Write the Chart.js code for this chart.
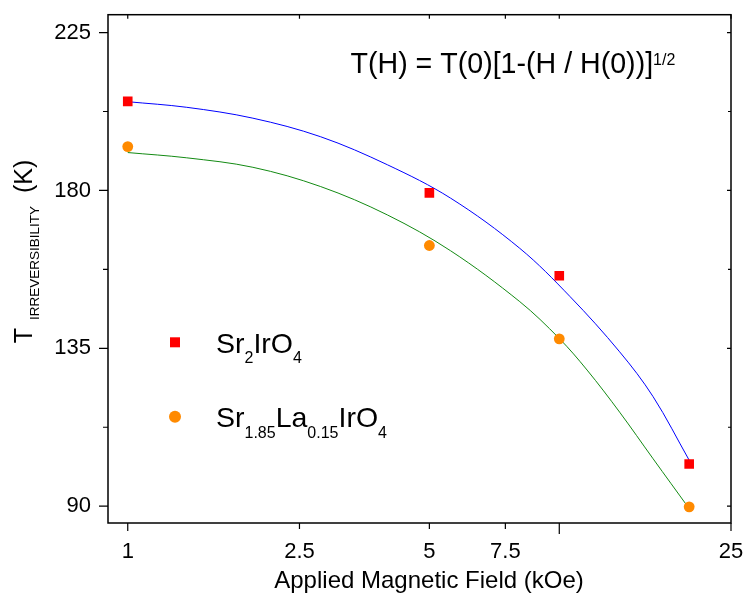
<!DOCTYPE html>
<html><head><meta charset="utf-8">
<script src="https://cdn.jsdelivr.net/npm/chart.js@4.4.1/dist/chart.umd.min.js"></script>
<style>html,body{margin:0;padding:0;background:#fff;overflow:hidden}</style>
</head><body>
<canvas id="c" width="745" height="595"></canvas>
<script>
// ---- data ----
const fieldH = [1, 5, 10, 20];
const tSr2IrO4 = [205.4, 179.3, 155.7, 102.0];
const tSrLaIrO4 = [192.5, 164.3, 137.7, 89.8];
const fitH1 = [1, 1.37, 1.95, 2.8, 4, 5.6, 8.1, 10.6, 13.8, 16.5, 20];
const fitSr2IrO4 = [205.3, 203.7, 200.6, 195.3, 187.3, 177.8, 163.5, 149.7, 134.0, 121.2, 103.1];
const fitH2 = [1, 1.37, 1.95, 2.8, 4, 5.6, 8.1, 10, 11.6, 13.8, 16.5, 20];
const fitSrLaIrO4 = [190.8, 189.3, 186.6, 181.1, 173.0, 162.8, 148.3, 137.8, 128.8, 116.8, 103.5, 89.3];
const xTicks = [1, 2.5, 5, 7.5, 10, 25];
const xTickLabels = ['1', '2.5', '5', '7.5', '', '25'];
const yMajorTicks = [90, 135, 180, 225];
const yMinorTicks = [112.5, 157.5, 202.5];

const FONT = "'Liberation Sans', Arial, Helvetica, sans-serif";
const pts = (xs, ys) => xs.map((v, i) => ({x: v, y: ys[i]}));

function drawRich(ctx, x, y, parts, big, small, subDy) {
  let cx = x;
  parts.forEach(([t, kind]) => {
    const sz = kind ? small : big;
    ctx.font = sz + 'px ' + FONT;
    const dy = kind === 'sub' ? subDy : (kind === 'sup' ? -subDy : 0);
    ctx.fillText(t, cx, y + dy);
    cx += ctx.measureText(t).width;
  });
}

const decor = {
  id: 'decor',
  afterDraw(chart) {
    const {ctx, chartArea: a, scales: {x, y}} = chart;
    ctx.save();
    ctx.strokeStyle = '#000';
    ctx.lineWidth = 1.5;
    ctx.strokeRect(a.left, a.top, a.right - a.left, a.bottom - a.top);
    ctx.lineWidth = 1.2;
    ctx.beginPath();
    yMajorTicks.forEach(v => { const p = y.getPixelForValue(v);
      ctx.moveTo(a.left - 9, p); ctx.lineTo(a.left, p);
      ctx.moveTo(a.right, p); ctx.lineTo(a.right - 4, p); });
    yMinorTicks.forEach(v => { const p = y.getPixelForValue(v);
      ctx.moveTo(a.left - 5, p); ctx.lineTo(a.left, p);
      ctx.moveTo(a.right, p); ctx.lineTo(a.right - 3, p); });
    xTicks.forEach((v, i) => { const p = x.getPixelForValue(v);
      const len = (v === 10) ? 11 : ((v === 1 || v === 25) ? 8 : 6);
      ctx.moveTo(p, a.bottom); ctx.lineTo(p, a.bottom + len);
      ctx.moveTo(p, a.top); ctx.lineTo(p, a.top + 4); });
    ctx.stroke();

    ctx.fillStyle = '#000';
    ctx.textBaseline = 'alphabetic';
    ctx.textAlign = 'left';
    // formula
    drawRich(ctx, 350.5, 73, [['T(H) = T(0)[1-(H / H(0))]', null], ['1/2', 'sup']], 28.6, 16, 8);
    // legend
    ctx.fillStyle = '#ff0000';
    ctx.fillRect(175 - 5, 342.3 - 5, 10, 10);
    ctx.fillStyle = '#ff8a00';
    ctx.beginPath(); ctx.arc(175, 416.7, 6, 0, Math.PI * 2); ctx.fill();
    ctx.fillStyle = '#000';
    drawRich(ctx, 216, 352.7, [['Sr', null], ['2', 'sub'], ['IrO', null], ['4', 'sub']], 28.5, 16, 10.5);
    drawRich(ctx, 216, 427.3, [['Sr', null], ['1.85', 'sub'], ['La', null], ['0.15', 'sub'], ['IrO', null], ['4', 'sub']], 28.5, 16, 10.5);
    // x title
    ctx.font = '24px ' + FONT;
    ctx.textAlign = 'center';
    ctx.fillText('Applied Magnetic Field (kOe)', 429, 588);
    // y title
    ctx.save();
    ctx.translate(31.7, 343.3);
    ctx.rotate(-Math.PI / 2);
    ctx.textAlign = 'left';
    ctx.font = '25px ' + FONT;
    ctx.fillText('T', 0, 0);
    ctx.font = '13.5px ' + FONT;
    ctx.fillText('IRREVERSIBILITY', 23.3, 7.6);
    ctx.font = '25px ' + FONT;
    ctx.fillText('(K)', 150.3, 0);
    ctx.restore();
    ctx.restore();
  }
};

const zeroPad = s => { s.paddingTop = 0; s.paddingBottom = 0; s.paddingLeft = 0; s.paddingRight = 0; };

new Chart(document.getElementById('c'), {
  type: 'scatter',
  data: {
    datasets: [
      {label: 'Sr2IrO4 fit', data: pts(fitH1, fitSr2IrO4), showLine: true, borderColor: '#0000ff', borderWidth: 1,
       pointRadius: 0, tension: 0.35, fill: false, order: 2},
      {label: 'Sr1.85La0.15IrO4 fit', data: pts(fitH2, fitSrLaIrO4), showLine: true, borderColor: '#138a13', borderWidth: 1,
       pointRadius: 0, tension: 0.35, fill: false, order: 2},
      {label: 'Sr2IrO4', data: pts(fieldH, tSr2IrO4), pointStyle: 'rect', pointRadius: 6.8,
       backgroundColor: '#ff0000', borderColor: '#ff0000', borderWidth: 0, order: 1},
      {label: 'Sr1.85La0.15IrO4', data: pts(fieldH, tSrLaIrO4), pointStyle: 'circle', pointRadius: 5.4,
       backgroundColor: '#ff8a00', borderColor: '#ff8a00', borderWidth: 0, order: 1}
    ]
  },
  options: {
    responsive: false,
    animation: false,
    devicePixelRatio: 1,
    layout: {padding: {top: 14.7, right: 14, left: 0, bottom: 0}},
    plugins: {legend: {display: false}, tooltip: {enabled: false}},
    scales: {
      x: {
        type: 'logarithmic', min: 0.9, max: 25,
        grid: {display: false, drawTicks: false},
        border: {display: false},
        afterBuildTicks: s => { s.ticks = xTicks.map(v => ({value: v})); },
        afterFit: s => { s.height = 72; zeroPad(s); },
        ticks: {autoSkip: false, maxRotation: 0, padding: 16, color: '#000',
          font: {family: FONT, size: 22},
          callback: (v) => { const i = xTicks.indexOf(v); return i >= 0 ? xTickLabels[i] : ''; }}
      },
      y: {
        type: 'linear', min: 85.2, max: 230.1,
        grid: {display: false, drawTicks: false},
        border: {display: false},
        afterBuildTicks: s => { s.ticks = yMajorTicks.map(v => ({value: v})); },
        afterFit: s => { s.width = 108; zeroPad(s); },
        ticks: {padding: 17, color: '#000', font: {family: FONT, size: 22},
          callback: v => String(v)}
      }
    }
  },
  plugins: [decor]
});
</script>
</body></html>
